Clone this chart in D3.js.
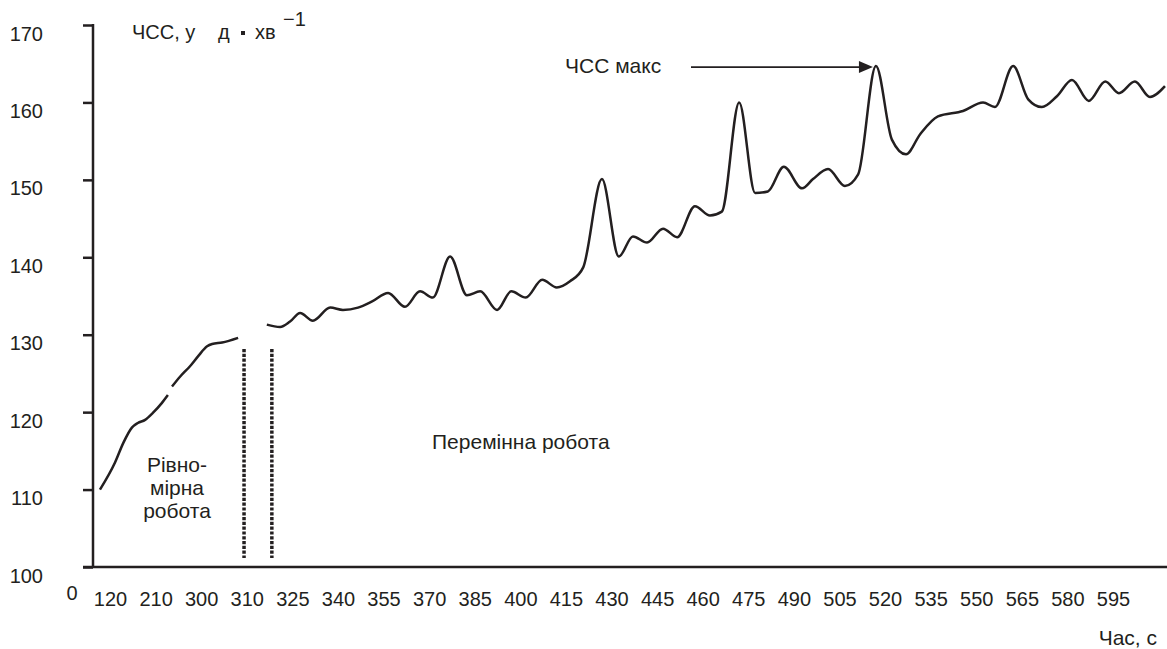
<!DOCTYPE html>
<html>
<head>
<meta charset="utf-8">
<script src="https://cdn.jsdelivr.net/npm/d3@7"></script>
<style>
  html, body { margin: 0; padding: 0; background: #ffffff; }
  svg { display: block; }
  text { font-family: "Liberation Sans", Arial, Helvetica, sans-serif; fill: #231f20; }
</style>
</head>
<body>
<svg id="chart" width="1167" height="649"></svg>
<script>
// Time labels along the bottom axis (evenly spaced, in seconds)
const timeLabels = ["120", "210", "300", "310", "325", "340", "355", "370", "385", "400",
  "415", "430", "445", "460", "475", "490", "505", "520", "535", "550", "565", "580", "595"];

// Heart-rate ticks (beats per minute)
const hrTicks = [100, 110, 120, 130, 140, 150, 160, 170];

// Heart rate during steady work: [position on the time axis, bpm]
const steadyPartA = [
  [-0.22, 110.0], [0.11, 113.5], [0.29, 116.0], [0.48, 118.0], [0.61, 118.6],
  [0.77, 119.0], [0.94, 119.9], [1.14, 121.2], [1.27, 122.2]
];
const steadyPartB = [
  [1.36, 123.3], [1.54, 124.6], [1.75, 125.9], [1.93, 127.2], [2.13, 128.5],
  [2.24, 128.8], [2.46, 129.0], [2.81, 129.6]
];

// Heart rate during variable work: [position on the time axis, bpm]
const variableWork = [
  [3.44, 131.3], [3.73, 131.0], [3.95, 131.7], [4.17, 132.8], [4.45, 131.8],
  [4.83, 133.5], [5.11, 133.2], [5.44, 133.5], [5.75, 134.3], [6.10, 135.4],
  [6.47, 133.6], [6.80, 135.6], [7.08, 134.8], [7.46, 140.1],
  [7.83, 135.1], [8.12, 135.6], [8.49, 133.2], [8.80, 135.6],
  [9.12, 134.8], [9.48, 137.1], [9.80, 136.1], [10.09, 136.9], [10.38, 138.7],
  [10.79, 150.1], [11.16, 140.1], [11.47, 142.7],
  [11.78, 141.9], [12.13, 143.7], [12.44, 142.6], [12.83, 146.6], [13.16, 145.4],
  [13.42, 145.9], [13.80, 160.0], [14.15, 148.3],
  [14.43, 148.5], [14.78, 151.7], [15.18, 148.9], [15.42, 150.1], [15.75, 151.4],
  [16.12, 149.2], [16.41, 150.7], [16.80, 164.7],
  [17.15, 155.2], [17.46, 153.3], [17.77, 155.9], [18.16, 158.2], [18.71, 158.9],
  [19.15, 160.0], [19.41, 159.4], [19.81, 164.7],
  [20.14, 160.4], [20.44, 159.4], [20.77, 160.8], [21.10, 162.9], [21.47, 160.2],
  [21.83, 162.7], [22.13, 161.2], [22.48, 162.7], [22.81, 160.7], [23.14, 162.1]
];

// Boundaries between steady and variable work, on the time axis
const phaseBounds = [2.94, 3.55];

const ink = "#231f20";
const svg = d3.select("#chart");

const x = d3.scaleLinear().domain([0, timeLabels.length - 1]).range([110, 1113]);
const y = d3.scaleLinear().domain([100, 170]).range([567, 25]);

// Y axis
const yAxis = svg.append("g")
  .attr("transform", "translate(93,0)")
  .call(d3.axisLeft(y).tickValues(hrTicks).tickSize(10).tickPadding(40).tickSizeOuter(0));
yAxis.select(".domain").remove();
yAxis.selectAll(".tick line").attr("stroke", ink).attr("stroke-width", 2.5);
yAxis.selectAll(".tick text")
  .attr("dy", "0.75em")
  .style("font-size", "20px")
  .attr("fill", ink);
svg.append("line")
  .attr("x1", 93).attr("x2", 93)
  .attr("y1", y(170) - 1).attr("y2", y(100))
  .attr("stroke", ink).attr("stroke-width", 2.5);

// X axis
const xAxis = svg.append("g")
  .attr("transform", `translate(0,${y(100)})`)
  .call(d3.axisBottom(x)
    .tickValues(d3.range(timeLabels.length))
    .tickFormat(i => timeLabels[i])
    .tickSize(0).tickPadding(25));
xAxis.select(".domain").remove();
xAxis.selectAll(".tick text").style("font-size", "20px").attr("fill", ink);
svg.append("line")
  .attr("x1", 83).attr("x2", 1167)
  .attr("y1", y(100)).attr("y2", y(100))
  .attr("stroke", ink).attr("stroke-width", 2.5);

svg.append("text").attr("x", 72).attr("y", 600)
  .attr("text-anchor", "middle").style("font-size", "20px").text("0");

// Axis titles
const yTitle = svg.append("g").style("font-size", "20px");
yTitle.append("text").attr("x", 132).attr("y", 39).text("ЧСС, у");
yTitle.append("text").attr("x", 218).attr("y", 39).text("д");
yTitle.append("rect").attr("x", 241).attr("y", 31).attr("width", 4).attr("height", 4).attr("fill", ink);
yTitle.append("text").attr("x", 255).attr("y", 39).text("хв");
yTitle.append("text").attr("x", 283).attr("y", 26).style("font-size", "20px").text("−1");

svg.append("text").attr("x", 1157).attr("y", 645)
  .attr("text-anchor", "end").style("font-size", "21px").text("Час, с");

// Heart-rate curve
const line = d3.line()
  .x(d => x(d[0]))
  .y(d => y(d[1]))
  .curve(d3.curveMonotoneX);

svg.append("g").selectAll("path")
  .data([steadyPartA, steadyPartB, variableWork])
  .join("path")
  .attr("d", line)
  .attr("fill", "none")
  .attr("stroke", ink)
  .attr("stroke-width", 2.5)
  .attr("stroke-linejoin", "round")
  .attr("stroke-linecap", "butt");

// Phase boundaries
svg.append("g").selectAll("line")
  .data(phaseBounds)
  .join("line")
  .attr("x1", d => x(d)).attr("x2", d => x(d))
  .attr("y1", 349).attr("y2", 558)
  .attr("stroke", ink)
  .attr("stroke-width", 3.5)
  .attr("stroke-dasharray", "3.2,1.6");

// Phase labels
const steadyLabel = svg.append("text")
  .attr("text-anchor", "middle").style("font-size", "21px");
["Рівно-", "мірна", "робота"].forEach((t, i) => {
  steadyLabel.append("tspan").attr("x", 177).attr("y", 472 + i * 23).text(t);
});
svg.append("text").attr("x", 432).attr("y", 449)
  .style("font-size", "21px").text("Перемінна робота");

// Maximum heart rate annotation
const peak = variableWork.reduce((a, b) => (b[1] > a[1] ? b : a));
const tipX = x(peak[0]) - 3;
const tipY = y(peak[1]) + 1;
svg.append("line")
  .attr("x1", 691).attr("x2", tipX - 12)
  .attr("y1", tipY).attr("y2", tipY)
  .attr("stroke", ink).attr("stroke-width", 1.8);
svg.append("path")
  .attr("d", `M${tipX},${tipY} L${tipX - 14},${tipY - 6} L${tipX - 14},${tipY + 6} Z`)
  .attr("fill", ink);
svg.append("text").attr("x", 565).attr("y", 73)
  .style("font-size", "21px").text("ЧСС макс");
</script>
</body>
</html>
